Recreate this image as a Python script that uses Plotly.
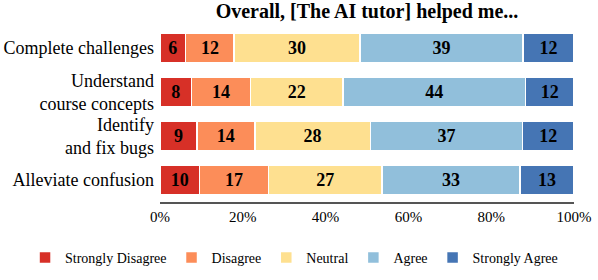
import plotly.graph_objects as go

categories = ["Complete challenges", "Understand<br>course concepts", "Identify<br>and fix bugs", "Alleviate confusion"]
series_names = ["Strongly Disagree", "Disagree", "Neutral", "Agree", "Strongly Agree"]
strongly_disagree = [6.2, 7.6, 8.9, 9.6]
disagree = [11.7, 14.3, 14.0, 16.6]
neutral = [30.4, 22.3, 27.9, 27.4]
agree = [39.4, 44.1, 36.8, 33.4]
strongly_agree = [12.3, 11.7, 12.4, 13.0]
colors = ["#d73027", "#fc8d59", "#fee090", "#91bfdb", "#4575b4"]
tick_vals = [0, 20, 40, 60, 80, 100]
tick_text = ["%d%%" % v for v in tick_vals]

font_family = "Liberation Serif"
fig = go.Figure()
for name, vals, col in zip(series_names, [strongly_disagree, disagree, neutral, agree, strongly_agree], colors):
    fig.add_trace(go.Bar(
        y=categories, x=vals, name=name, orientation="h",
        marker=dict(color=col, line=dict(color="white", width=1.5)),
        text=["<b>%d</b>" % round(v) for v in vals], textposition="inside",
        insidetextanchor="middle", textangle=0,
        textfont=dict(family=font_family, size=18, color="black"),
        constraintext="none",
        hoverinfo="skip",
    ))

fig.update_layout(
    barmode="stack",
    width=598, height=280,
    margin=dict(l=160, r=24, t=26, b=78, autoexpand=False),
    paper_bgcolor="white", plot_bgcolor="white",
    font=dict(family=font_family, size=16, color="black"),
    title=dict(text="<b>Overall, [The AI tutor] helped me...</b>", x=0.5, xref="paper",
               xanchor="center", yref="container", y=0.96, yanchor="middle",
               font=dict(size=20, family=font_family)),
    bargap=0.33,
    legend=dict(orientation="h", xref="paper", x=-0.326, xanchor="left",
                yref="paper", y=-0.318, yanchor="middle",
                font=dict(size=14, family=font_family), traceorder="normal"),
)
fig.update_xaxes(range=[0, 100], tickvals=tick_vals, ticktext=tick_text, showgrid=False, zeroline=False,
                 showline=True, linecolor="#555555", linewidth=2, ticks="", tickangle=0,
                 tickfont=dict(size=15, family=font_family))
fig.update_yaxes(autorange="reversed", showgrid=False, ticks="", ticklabelstandoff=5,
                 tickfont=dict(size=18, family=font_family))

fig.write_html("out.html", config={"displayModeBar": False},
               post_script="document.body.style.margin='0';")
